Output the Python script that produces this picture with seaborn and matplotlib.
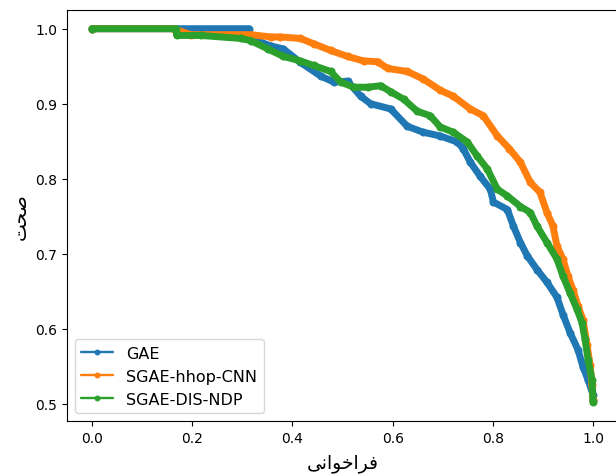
import numpy as np
import pandas as pd
import seaborn as sns
import matplotlib.pyplot as plt

# recall / precision
gae_recall = [0.0, 0.313, 0.317, 0.357, 0.382, 0.416, 0.456, 0.482, 0.510, 0.536, 0.556,
              0.596, 0.629, 0.661, 0.695, 0.729, 0.741, 0.755, 0.775, 0.795, 0.801, 0.829,
              0.841, 0.855, 0.869, 0.888, 0.908, 0.928, 0.940, 0.954, 0.970, 0.980, 0.990,
              1.0, 1.0]
gae_prec = [1.0, 1.0, 0.987, 0.977, 0.973, 0.955, 0.937, 0.929, 0.930, 0.910, 0.900,
            0.893, 0.870, 0.862, 0.857, 0.849, 0.840, 0.822, 0.803, 0.786, 0.769, 0.759,
            0.737, 0.715, 0.697, 0.679, 0.662, 0.642, 0.619, 0.595, 0.572, 0.549, 0.532,
            0.512, 0.505]

cnn_recall = [0.0, 0.163, 0.197, 0.317, 0.357, 0.376, 0.416, 0.442, 0.476, 0.510, 0.542,
              0.570, 0.590, 0.629, 0.661, 0.695, 0.721, 0.755, 0.781, 0.809, 0.833, 0.855,
              0.875, 0.894, 0.908, 0.920, 0.928, 0.940, 0.950, 0.960, 0.970, 0.980, 0.988,
              0.994, 0.998, 1.0]
cnn_prec = [1.0, 1.0, 0.992, 0.992, 0.989, 0.989, 0.987, 0.980, 0.971, 0.963, 0.957,
            0.956, 0.947, 0.943, 0.933, 0.918, 0.910, 0.893, 0.884, 0.857, 0.840, 0.822,
            0.795, 0.782, 0.755, 0.737, 0.710, 0.693, 0.670, 0.652, 0.630, 0.612, 0.579,
            0.552, 0.525, 0.505]

dis_recall = [0.0, 0.167, 0.169, 0.217, 0.297, 0.317, 0.351, 0.382, 0.416, 0.442, 0.476,
              0.496, 0.522, 0.550, 0.576, 0.596, 0.622, 0.649, 0.675, 0.695, 0.721, 0.749,
              0.769, 0.789, 0.809, 0.829, 0.855, 0.875, 0.888, 0.908, 0.928, 0.940, 0.954,
              0.968, 0.978, 0.984, 0.990, 0.998, 1.0]
dis_prec = [1.0, 1.0, 0.991, 0.991, 0.987, 0.984, 0.973, 0.963, 0.957, 0.951, 0.943,
            0.929, 0.922, 0.922, 0.924, 0.916, 0.906, 0.890, 0.884, 0.869, 0.862, 0.849,
            0.830, 0.813, 0.786, 0.777, 0.763, 0.755, 0.737, 0.715, 0.693, 0.670, 0.648,
            0.626, 0.608, 0.586, 0.559, 0.532, 0.502]

names = ["GAE", "SGAE-hhop-CNN", "SGAE-DIS-NDP"]
colors = ["#1f77b4", "#ff7f0e", "#2ca02c"]

# persian labels in visual (shaped) order, matplotlib does no bidi/shaping
xlabel = "\uFBFD\uFEE7\uFE8D\uFEEE\uFEA7\uFE8D\uFEAE\uFED3"  # فراخوانی
ylabel = "\uFE96\uFEA4\uFEBB"  # صحت

fig = plt.figure(figsize=(6.16, 4.77), dpi=100)
ax = fig.add_axes([0.1088, 0.1153, 0.8946, 0.8616])

for name, c, r, p in zip(names, colors, [gae_recall, cnn_recall, dis_recall],
                         [gae_prec, cnn_prec, dis_prec]):
    df = pd.DataFrame({"recall": r, "precision": p})
    sns.lineplot(data=df, x="recall", y="precision", ax=ax, color=c, label=name,
                 marker=".", markersize=10, linewidth=5, sort=False, estimator=None,
                 markeredgecolor=c, solid_joinstyle="round", solid_capstyle="round")

ax.set_xlabel(xlabel, fontsize=13.5, family="DejaVu Sans", labelpad=6)
ax.set_ylabel(ylabel, fontsize=13.5, family="DejaVu Sans")
ax.set_xticks([0.0, 0.2, 0.4, 0.6, 0.8, 1.0])
ax.set_yticks([0.5, 0.6, 0.7, 0.8, 0.9, 1.0])

leg = ax.legend(loc="lower left", fontsize=11.5)
for h in leg.legend_handles:
    h.set_linewidth(1.7)
    h.set_markersize(7)

fig.savefig("out.png", dpi=100)
